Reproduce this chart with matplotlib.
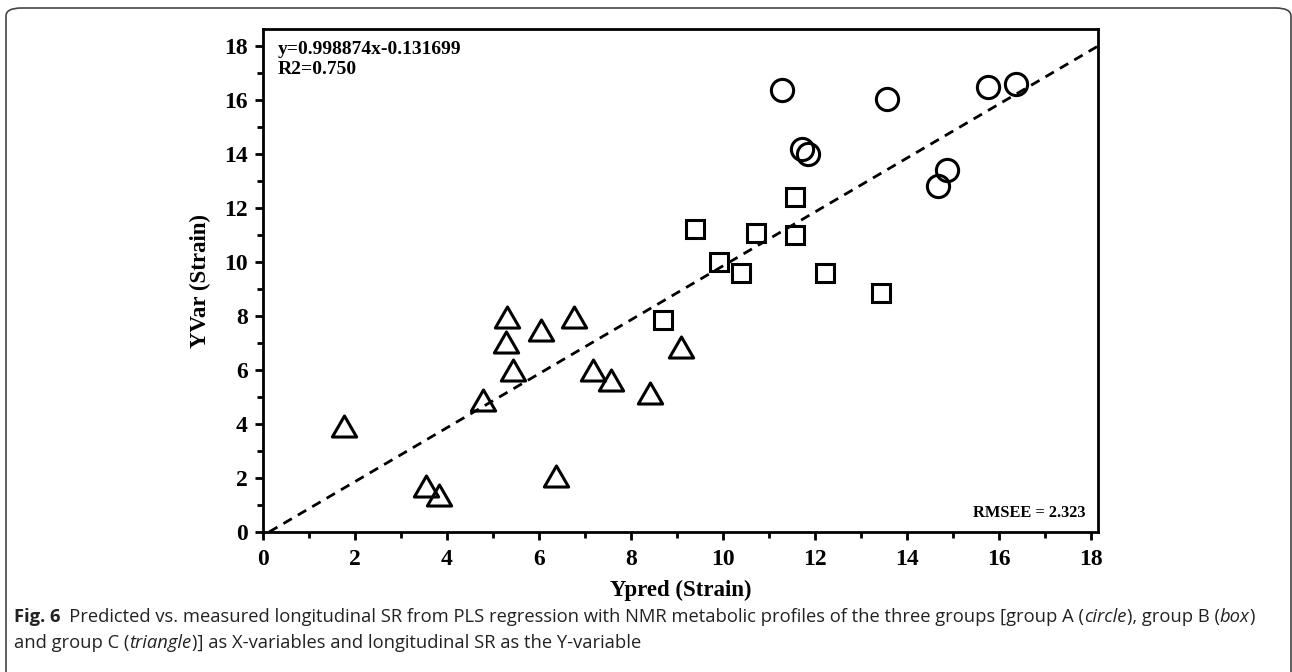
import numpy as np
import matplotlib.pyplot as plt
from matplotlib.patches import FancyBboxPatch
from matplotlib.path import Path
from matplotlib.transforms import IdentityTransform

# group A (circle)
ypredA = [11.28, 13.57, 15.76, 16.37, 11.72, 11.85, 14.87, 14.67]
yvarA = [16.37, 16.04, 16.48, 16.59, 14.18, 14.00, 13.41, 12.82]
# group B (box)
ypredB = [11.57, 9.39, 10.71, 11.57, 9.91, 10.39, 12.22, 13.43, 8.70]
yvarB = [12.41, 11.22, 11.07, 11.00, 10.00, 9.60, 9.60, 8.85, 7.85]
# group C (triangle)
ypredC = [6.76, 6.04, 5.28, 5.30, 5.43, 7.17, 7.56, 4.78, 1.76, 3.54, 3.83, 6.37, 8.41, 9.09]
yvarC = [7.96, 7.48, 7.04, 7.96, 6.00, 6.00, 5.63, 4.89, 3.93, 1.70, 1.37, 2.07, 5.15, 6.85]

slope = 0.998874
intercept = -0.131699
r2 = 0.750
rmsee = 2.323

plt.rcParams['font.family'] = ['Liberation Serif', 'DejaVu Serif']

fig = plt.figure(figsize=(12.92, 6.72), dpi=100)
ax = fig.add_axes([263/1292, 1-532/672, (1098-263)/1292, (532-29)/672])

# equilateral triangle marker
tri = Path([(0, 0.433), (-0.5, -0.433), (0.5, -0.433), (0, 0.433)],
           [Path.MOVETO, Path.LINETO, Path.LINETO, Path.CLOSEPOLY])

ax.plot(ypredA, yvarA, 'o', ms=16, mfc='none', mec='black', mew=2.2, ls='none')
ax.plot(ypredB, yvarB, 's', ms=13.5, mfc='none', mec='black', mew=2.2, ls='none')
ax.plot(ypredC, yvarC, marker=tri, ms=17.5, mfc='none', mec='black', mew=2.2, ls='none')

xl = np.array([-intercept / slope, 18.15])
ax.plot(xl, slope*xl + intercept, color='black', lw=2, ls=(0, (3.5, 2.5)))

ax.set_xlim(0, 18.15)
ax.set_ylim(0, 18.63)
ax.set_xticks(np.arange(0, 19, 2))
ax.set_yticks(np.arange(0, 19, 2))
ax.set_xticks(np.arange(1, 19, 2), minor=True)
ax.set_yticks(np.arange(1, 19, 2), minor=True)
ax.tick_params(which='major', direction='out', length=6, width=2, labelsize=17)
ax.tick_params(which='minor', direction='out', length=4, width=2)
ax.tick_params(axis='x', pad=6)
ax.tick_params(axis='y', pad=5)
for lbl in ax.get_xticklabels() + ax.get_yticklabels():
    lbl.set_fontweight('bold')
for s in ax.spines.values():
    s.set_linewidth(2)

ax.set_xlabel('Ypred (Strain)', fontsize=16.5, fontweight='bold', labelpad=7)
ax.set_ylabel('YVar (Strain)', fontsize=16.5, fontweight='bold', labelpad=9)

ax.text(0.018, 0.977, 'y={:.6f}x{:.6f}\nR2={:.3f}'.format(slope, intercept, r2),
        transform=ax.transAxes, ha='left', va='top', fontsize=14,
        fontweight='bold', linespacing=1.25)
ax.text(0.985, 0.022, 'RMSEE = {:.3f}'.format(rmsee), transform=ax.transAxes,
        ha='right', va='bottom', fontsize=11.8, fontweight='bold')

# outer rounded frame
frame = FancyBboxPatch((6/1292, -0.05), 1291/1292 - 6/1292, 1 - 8/672 + 0.05,
                       boxstyle='round,pad=0,rounding_size=0.012',
                       transform=fig.transFigure, fill=False,
                       edgecolor='#444444', lw=1.2, clip_on=False)
fig.patches.append(frame)

# caption with mixed styles
cap_font = ['Open Sans', 'DejaVu Sans']
renderer = fig.canvas.get_renderer()


def rich_line(x, y, parts):
    for s, weight, style in parts:
        t = fig.text(x, y, s, transform=IdentityTransform(), fontsize=13.2,
                     family=cap_font, fontweight=weight, fontstyle=style,
                     color='#222222', ha='left', va='baseline')
        x += t.get_window_extent(renderer).width


rich_line(14, 672-622, [
    ('Fig. 6', 'bold', 'normal'),
    ('\u2002Predicted vs. measured longitudinal SR from PLS regression with NMR metabolic '
     'profiles of the three groups [group A (', 'normal', 'normal'),
    ('circle', 'normal', 'italic'),
    ('), group B (', 'normal', 'normal'),
    ('box', 'normal', 'italic'),
    (')', 'normal', 'normal'),
])
rich_line(14, 672-648, [
    ('and group C (', 'normal', 'normal'),
    ('triangle', 'normal', 'italic'),
    (')] as X-variables and longitudinal SR as the Y-variable', 'normal', 'normal'),
])

fig.savefig('out.png', dpi=100)
